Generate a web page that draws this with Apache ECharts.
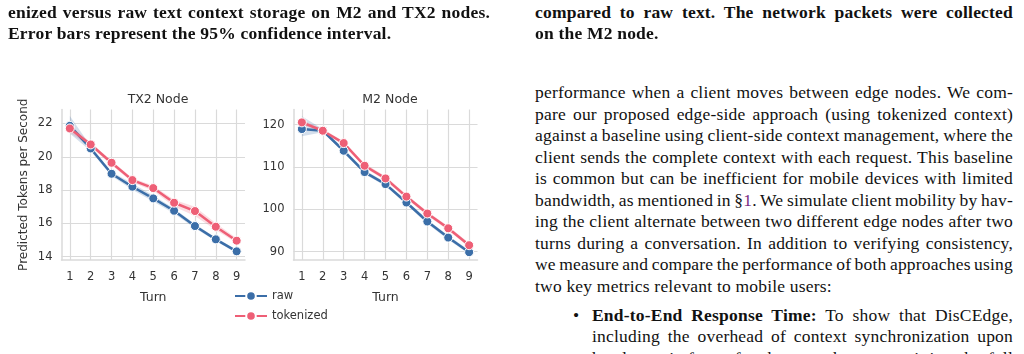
<!DOCTYPE html>
<html>
<head>
<meta charset="utf-8">
<script src="https://cdn.jsdelivr.net/npm/echarts@6/dist/echarts.min.js"></script>
<style>
  html, body { margin: 0; padding: 0; background: #fff; }
  body { width: 1024px; height: 354px; overflow: hidden; position: relative; }
  #chart { position: absolute; left: 0; top: 0; width: 520px; height: 354px; }
  .ln { position: absolute; font-family: "Liberation Serif", serif; font-size: 17.5px; letter-spacing: 0.2px; line-height: 21px; color: #111; white-space: nowrap; }
  .b { font-weight: bold; }
  .ref { color: #7b2d83; }
</style>
</head>
<body>
<div id="chart"></div>

<div class="ln b j" data-w="482" style="left:8px; top:2px;">enized versus raw text context storage on M2 and TX2 nodes.</div>
<div class="ln b" style="left:8px; top:23px;">Error bars represent the 95% confidence interval.</div>
<div class="ln b j" data-w="478" style="left:535px; top:2px;">compared to raw text. The network packets were collected</div>
<div class="ln b" style="left:535px; top:23px;">on the M2 node.</div>

<div class="ln j" data-w="478" style="left:535px; top:82px;">performance when a client moves between edge nodes. We com-</div>
<div class="ln j" data-w="478" style="left:535px; top:103.5px;">pare our proposed edge-side approach (using tokenized context)</div>
<div class="ln j" data-w="478" style="left:535px; top:125px;">against a baseline using client-side context management, where the</div>
<div class="ln j" data-w="478" style="left:535px; top:146.5px;">client sends the complete context with each request. This baseline</div>
<div class="ln j" data-w="478" style="left:535px; top:168px;">is common but can be inefficient for mobile devices with limited</div>
<div class="ln j" data-w="478" style="left:535px; top:189.5px;">bandwidth, as mentioned in §<span class="ref">1</span>. We simulate client mobility by hav-</div>
<div class="ln j" data-w="478" style="left:535px; top:211px;">ing the client alternate between two different edge nodes after two</div>
<div class="ln j" data-w="478" style="left:535px; top:232.5px;">turns during a conversation. In addition to verifying consistency,</div>
<div class="ln j" data-w="478" style="left:535px; top:254px;">we measure and compare the performance of both approaches using</div>
<div class="ln" style="left:535px; top:275.5px;">two key metrics relevant to mobile users:</div>
<div class="ln" style="left:573px; top:304.5px;">•</div>
<div class="ln j" data-w="421" style="left:592px; top:304.5px;"><b>End-to-End Response Time:</b> To show that DisCEdge,</div>
<div class="ln j" data-w="421" style="left:592px; top:326px;">including the overhead of context synchronization upon</div>
<div class="ln j" data-w="421" style="left:592px; top:347.5px;">handover, is faster for the user than transmitting the full</div>

<script>
// justify each line to its column width through word spacing
document.querySelectorAll('.ln.j').forEach(el => {
  const target = +el.dataset.w;
  const spaces = (el.textContent.match(/ /g) || []).length;
  const natural = el.getBoundingClientRect().width;
  if (spaces) el.style.wordSpacing = ((target - natural) / spaces) + 'px';
});

const turns = [1, 2, 3, 4, 5, 6, 7, 8, 9];
const xTicks = [1, 2, 3, 4, 5, 6, 7, 8, 9];

// TX2 node, predicted tokens per second
const tx2Raw = [21.86, 20.5, 18.98, 18.2, 17.5, 16.76, 15.84, 15.04, 14.32];
const tx2RawLo = [21.4, 20.35, 18.85, 18.02, 17.32, 16.6, 15.7, 14.94, 14.2];
const tx2RawHi = [22.45, 20.65, 19.1, 18.4, 17.68, 16.9, 15.96, 15.14, 14.42];
const tx2Tok = [21.7, 20.74, 19.64, 18.6, 18.12, 17.24, 16.74, 15.8, 14.96];
const tx2TokLo = [21.45, 20.6, 19.5, 18.46, 17.96, 17.02, 16.45, 15.6, 14.82];
const tx2TokHi = [21.92, 20.86, 19.76, 18.72, 18.26, 17.42, 17.0, 16.0, 15.1];
const tx2Ticks = [14, 16, 18, 20, 22];

// M2 node
const m2Raw = [118.97, 118.58, 113.84, 108.8, 105.95, 101.6, 97.1, 93.3, 89.85];
const m2RawLo = [117.3, 118.2, 113.3, 108.3, 105.5, 101.1, 96.6, 92.8, 89.4];
const m2RawHi = [122.0, 119.0, 114.4, 109.3, 106.4, 102.1, 97.6, 93.8, 90.3];
const m2Tok = [120.55, 118.58, 115.66, 110.3, 107.3, 103.0, 99.0, 95.5, 91.5];
const m2TokLo = [120.0, 118.2, 115.2, 109.8, 106.8, 102.5, 98.5, 95.0, 91.0];
const m2TokHi = [121.1, 119.0, 116.1, 110.8, 107.8, 103.5, 99.5, 96.0, 92.0];
const m2Ticks = [90, 100, 110, 120];

const BLUE = '#3b6ea8';
const PINK = '#ee5f76';
const GRID = '#dadada';
const TXT = '#333';
const FONT = 'DejaVu Sans';

function band(idx, lo, hi, fill) {
  return {
    type: 'custom',
    xAxisIndex: idx,
    yAxisIndex: idx,
    silent: true,
    z: 1,
    data: turns.map((t, i) => [t, lo[i], hi[i]]),
    encode: { x: 0, y: [1, 2] },
    renderItem(params, api) {
      if (params.dataIndex !== 0) return null;
      const pts = [];
      for (let i = 0; i < turns.length; i++) pts.push(api.coord([turns[i], hi[i]]));
      for (let i = turns.length - 1; i >= 0; i--) pts.push(api.coord([turns[i], lo[i]]));
      return { type: 'polygon', shape: { points: pts }, style: { fill: fill } };
    }
  };
}

function line(idx, name, vals, color) {
  return {
    type: 'line',
    name: name,
    xAxisIndex: idx,
    yAxisIndex: idx,
    z: 3,
    data: turns.map((t, i) => [t, vals[i]]),
    symbol: 'circle',
    symbolSize: 9,
    lineStyle: { color: color, width: 2.5 },
    itemStyle: { color: color, borderColor: '#fff', borderWidth: 1 }
  };
}

function xAxis(idx) {
  return {
    type: 'value',
    gridIndex: idx,
    min: 0.6,
    max: 9.4,
    name: 'Turn',
    nameLocation: 'middle',
    nameGap: 31,
    nameTextStyle: { color: TXT, fontFamily: FONT, fontSize: 12.5 },
    axisLine: { show: true, lineStyle: { color: GRID, width: 1.5 } },
    axisTick: { show: false, customValues: xTicks },
    axisLabel: { customValues: xTicks, color: TXT, fontFamily: FONT, fontSize: 11.5, margin: 11 },
    splitLine: { show: true, lineStyle: { color: GRID, width: 1.2 } }
  };
}

function yAxis(idx, min, max, ticks, name) {
  return {
    type: 'value',
    gridIndex: idx,
    min: min,
    max: max,
    name: name,
    nameLocation: 'middle',
    nameGap: 32,
    nameTextStyle: { color: TXT, fontFamily: FONT, fontSize: 12 },
    axisLine: { show: true, lineStyle: { color: GRID, width: 1.5 } },
    axisTick: { show: false, customValues: ticks },
    axisLabel: { customValues: ticks, color: TXT, fontFamily: FONT, fontSize: 11.5, margin: 9 },
    splitLine: { show: true, lineStyle: { color: GRID, width: 1.2 } }
  };
}

const chart = echarts.init(document.getElementById('chart'));
chart.setOption({
  animation: false,
  title: [
    { text: 'TX2 Node', left: 153, top: 88, textAlign: 'center',
      textStyle: { color: TXT, fontFamily: FONT, fontSize: 12.5, fontWeight: 'normal' } },
    { text: 'M2 Node', left: 385, top: 88, textAlign: 'center',
      textStyle: { color: TXT, fontFamily: FONT, fontSize: 12.5, fontWeight: 'normal' } }
  ],
  grid: [
    { left: 61.5, top: 109.5, width: 183.5, height: 150.5 },
    { left: 293.5, top: 109.5, width: 184, height: 150.5 }
  ],
  xAxis: [xAxis(0), xAxis(1)],
  yAxis: [
    yAxis(0, 13.8, 22.84, tx2Ticks, 'Predicted Tokens per Second'),
    yAxis(1, 88, 123.6, m2Ticks, '')
  ],
  legend: {
    orient: 'vertical',
    left: 229,
    top: 285,
    itemWidth: 32,
    itemHeight: 12,
    itemGap: 8,
    data: ['raw', 'tokenized'],
    textStyle: { color: TXT, fontFamily: FONT, fontSize: 11.5 }
  },
  series: [
    band(0, tx2RawLo, tx2RawHi, 'rgba(59,110,168,0.22)'),
    band(0, tx2TokLo, tx2TokHi, 'rgba(238,95,118,0.22)'),
    line(0, 'raw', tx2Raw, BLUE),
    line(0, 'tokenized', tx2Tok, PINK),
    band(1, m2RawLo, m2RawHi, 'rgba(59,110,168,0.22)'),
    band(1, m2TokLo, m2TokHi, 'rgba(238,95,118,0.22)'),
    line(1, 'raw', m2Raw, BLUE),
    line(1, 'tokenized', m2Tok, PINK)
  ]
});
</script>
</body>
</html>
